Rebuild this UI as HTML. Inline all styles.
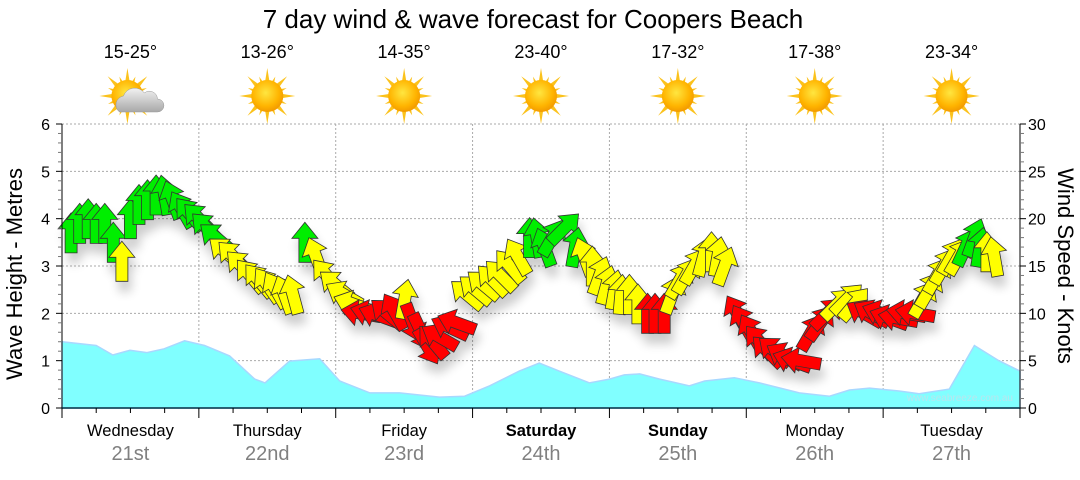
<!DOCTYPE html>
<html><head><meta charset="utf-8"><style>
body{margin:0;background:#fff;width:1080px;height:475px;overflow:hidden;font-family:"Liberation Sans",sans-serif}
</style></head><body>
<svg id="chart" width="1080" height="475" xmlns="http://www.w3.org/2000/svg" font-family="Liberation Sans, DejaVu Sans, sans-serif">
<defs>
<filter id="sh" x="-50%" y="-50%" width="200%" height="200%"><feGaussianBlur in="SourceAlpha" stdDeviation="5"/><feOffset dx="3" dy="10"/><feComponentTransfer><feFuncA type="linear" slope="0.2"/></feComponentTransfer><feMerge><feMergeNode/><feMergeNode in="SourceGraphic"/></feMerge></filter>
<radialGradient id="sun" cx="45%" cy="40%" r="60%"><stop offset="0" stop-color="#ffe640"/><stop offset="0.7" stop-color="#ffb400"/><stop offset="1" stop-color="#f29a00"/></radialGradient>
<linearGradient id="cloud" x1="0" y1="0" x2="0" y2="1"><stop offset="0" stop-color="#f2f2f2"/><stop offset="1" stop-color="#a8a8a8"/></linearGradient>
</defs>
<text x="533" y="28" font-size="26" text-anchor="middle" fill="#000">7 day wind &amp; wave forecast for Coopers Beach</text>
<g id="grid"></g>
<g id="waves"></g>
<text x="1013" y="401" font-size="10" text-anchor="end" fill="#b8e6ee">www.seabreeze.com.au</text>
<g id="arrows" filter="url(#sh)"></g>
<g id="axes"></g>
<g id="header"></g>
<text transform="translate(22,274) rotate(-90)" font-size="22" text-anchor="middle">Wave Height - Metres</text>
<text transform="translate(1058,266) rotate(90)" font-size="22" text-anchor="middle">Wind Speed - Knots</text>
</svg>
<script>
const days=["Wednesday","Thursday","Friday","Saturday","Sunday","Monday","Tuesday"];
const dates=["21st","22nd","23rd","24th","25th","26th","27th"];
const boldDays=[false,false,false,true,true,false,false];
const temps=["15-25°","13-26°","14-35°","23-40°","17-32°","17-38°","23-34°"];
const cloudy=[true,false,false,false,false,false,false];
const waveHours=[0,6,8.9,11.9,14.9,17.9,21.5,25,29.4,33.8,35.6,39.9,45.2,48.7,54,59.2,66.2,70.6,75,80.2,83.7,87.2,92.5,96,98.6,101.3,104.8,110,112.7,117.9,122.3,129.3,134.6,138.1,141.6,146.8,150.3,155.6,160,164.3,168];
const waveM=[1.40,1.32,1.12,1.22,1.17,1.25,1.42,1.32,1.10,0.61,0.53,0.99,1.04,0.57,0.32,0.32,0.23,0.25,0.47,0.78,0.95,0.78,0.53,0.61,0.70,0.72,0.61,0.47,0.57,0.64,0.53,0.32,0.25,0.38,0.42,0.36,0.30,0.40,1.32,1.0,0.78];
const windHours=[1.6,3.1,4.6,6,7.5,9,10.5,12,13.5,15,16.5,18,19.4,21,22.4,24,25.4,27,28.6,30,31.5,33,34.5,36,37.5,39,40.5,42.6,44.5,46.4,48,49.4,51,52.4,54,55.4,57,58.3,60.1,61.5,63,64.1,65,66.2,68,69.2,71,72.5,73.9,75.5,76.9,78.5,79.9,82,83.3,84.6,86,88.1,90,91.6,93,94.3,95.5,96.9,98,99.5,101,102.7,104,105.6,107,108.3,109.5,110.9,112.5,113.9,115,116.2,118.4,119.5,120.9,122.3,123.7,125,126.7,128,129.6,131.4,133,134.2,136,137.7,139,140.7,142,143.7,145,146.6,148,149.6,151,152.1,153.5,154.7,156,157.3,158.5,160,161,162.2,163.5,165.2];
const windKn=[18.5,19.5,20,19.5,19.5,17.5,15.5,20,21.5,22,22.5,22.5,22,21,20.5,20,19,18,16.5,16,15,14,13.5,13,12.5,12,12,17.5,16,14,13,12,11,10,10,9.8,10,10.2,11.5,9,8,6.5,7,7.5,8.5,9,12,12.5,13,13.5,14,15,16,18,18,17,18,19,17,16,15,14,13,12.5,12,12,11,10,10,10,12,13.5,14,15,16,16.5,16,15,10,9,8,7,6,6,5.5,5,5,8,9,10,11,11.5,11,10,10,10,9.5,9.5,10,10,11.5,12.5,14,15,16,16,17,18,17,16.5,16];
const windDir=[0,0,0,0,0,0,0,0,0,0,0,-10,-20,-30,-40,-45,-45,-50,-50,-45,-45,-40,-40,-35,-30,-20,-15,0,-20,-40,-50,-60,-70,-80,-75,-70,-50,-30,10,160,155,150,-40,-60,-65,-70,-50,-50,-50,-45,-45,-40,-30,0,-10,-20,30,45,10,-20,0,20,15,10,5,0,0,0,0,0,20,30,30,30,15,0,10,20,-30,-30,-30,-40,-45,-50,-60,-70,-80,30,35,45,45,45,40,-60,-60,-70,-70,-80,-80,-80,30,30,30,30,30,30,25,20,10,0,-10,-20];
const leftTicks=["0","1","2","3","4","5","6"];
const rightTicks=["0","5","10","15","20","25","30"];

const NS="http://www.w3.org/2000/svg";
const X0=62,X1=1020,Y0=408,Y1=124;
const xH=h=>X0+h*(X1-X0)/168;
const yM=m=>Y0-m*(Y0-Y1)/6;
const yK=k=>Y0-k*(Y0-Y1)/30;
function mk(tag,attrs,parent){const e=document.createElementNS(NS,tag);for(const k in attrs)e.setAttribute(k,attrs[k]);parent.appendChild(e);return e;}
const grid=document.getElementById('grid'),axes=document.getElementById('axes'),waves=document.getElementById('waves'),arrows=document.getElementById('arrows'),header=document.getElementById('header');

for(let i=1;i<=6;i++){const l=mk('line',{x1:X0,x2:X1,y1:yM(i),y2:yM(i),stroke:'#aaa','stroke-dasharray':'2,2'},grid);

}
for(let d=1;d<7;d++){const l=mk('line',{x1:xH(d*24),x2:xH(d*24),y1:Y1,y2:Y0,stroke:'#aaa','stroke-dasharray':'2,2'},grid);

}

let pd=`M${xH(waveHours[0])},${Y0}`;
waveHours.forEach((h,i)=>{pd+=` L${xH(h).toFixed(1)},${yM(waveM[i]).toFixed(1)}`;});
pd+=` L${xH(waveHours[waveHours.length-1])},${Y0} Z`;
const wa=mk('path',{d:pd,fill:'#80ffff',stroke:'#a8d8ff','stroke-width':1.5},waves);



function col(k){return k>=17?'#00ee00':(k>=10.5?'#ffff00':'#ff0000');}
const nW=Math.min(windHours.length,windKn.length,windDir.length);
for(let i=0;i<nW;i++){
 const g=mk('polygon',{points:'0,-20 13,-4 6,-4 6,20 -6,20 -6,-4 -13,-4',fill:col(windKn[i]),stroke:'#333','stroke-width':0.8,
  transform:`translate(${xH(windHours[i]).toFixed(1)},${yK(windKn[i]).toFixed(1)}) rotate(${windDir[i]})`},arrows);
 
 
}

let a=mk('line',{x1:X0,x2:X0,y1:Y1,y2:Y0,stroke:'#000'},axes);
a=mk('line',{x1:X1,x2:X1,y1:Y1,y2:Y0,stroke:'#000'},axes);
a=mk('line',{x1:X0,x2:X1,y1:Y0,y2:Y0,stroke:'#034',"stroke-width":1.5},axes);
for(let i=0;i<=30;i++){const y=Y0-i*(Y0-Y1)/30;
 mk('line',{x1:X0-(i%5==0?6:4),x2:X0,y1:y,y2:y,stroke:i%5==0?'#000':'#777'},axes);
 mk('line',{x1:X1,x2:X1+(i%5==0?6:4),y1:y,y2:y,stroke:i%5==0?'#000':'#777'},axes);}
leftTicks.forEach((t,i)=>{const e=mk('text',{x:50,y:yM(i)+6,'font-size':16,'text-anchor':'end'},axes);e.textContent=t;

});
rightTicks.forEach((t,i)=>{const e=mk('text',{x:1028,y:yK(i*5)+6,'font-size':16},axes);e.textContent=t;

});
for(let q=0;q<=28;q++){const x=xH(q*6);mk('line',{x1:x,x2:x,y1:Y0,y2:Y0+(q%4==0?10:5),stroke:'#000'},axes);}

function sun(g,cx,cy){
 for(let r=0;r<16;r++){const ang=r*Math.PI/8,len=r%2==0?28:21;
  const ax=cx+Math.cos(ang)*len,ay=cy+Math.sin(ang)*len,pa=ang+Math.PI/2;
  mk('polygon',{points:`${ax},${ay} ${cx+Math.cos(pa)*4.5},${cy+Math.sin(pa)*4.5} ${cx-Math.cos(pa)*4.5},${cy-Math.sin(pa)*4.5}`,fill:'#fbc21c'},g);}
 mk('circle',{cx:cx,cy:cy,r:16,fill:'url(#sun)'},g);}
days.forEach((d,i)=>{const cx=xH(i*24+12);
 let e=mk('text',{x:cx,y:436,'font-size':16.5,'text-anchor':'middle','font-weight':boldDays[i]?'bold':'normal'},axes);e.textContent=d;
 
 
 e=mk('text',{x:cx,y:460,'font-size':20,'text-anchor':'middle',fill:'#808080'},axes);e.textContent=dates[i];
 
 
 e=mk('text',{x:cx,y:58,'font-size':18,'text-anchor':'middle'},header);e.textContent=temps[i];
 
 
 const g=mk('g',{},header);
 
 
 sun(g,cx-(cloudy[i]?3:0),96);
 if(cloudy[i]){mk('path',{d:`M${cx-11},${112} a9,9 0 0 1 4,-16 a12,12 0 0 1 21,-3 a8,8 0 0 1 13,6 a6.5,6.5 0 0 1 0,13 Z`,fill:'url(#cloud)',stroke:'#999','stroke-width':0.5},g);}
});
</script>
</body></html>
